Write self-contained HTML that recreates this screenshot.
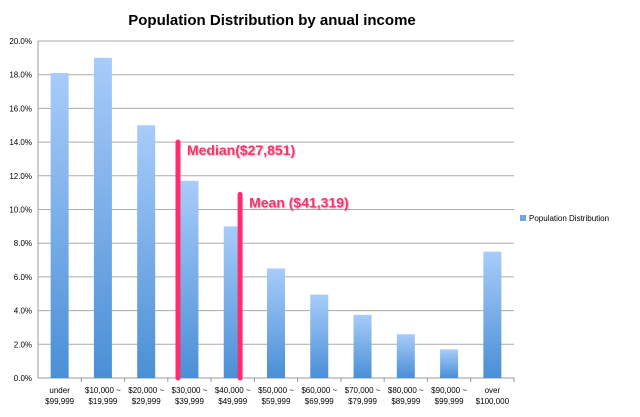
<!DOCTYPE html>
<html><head><meta charset="utf-8"><style>
body{margin:0;background:#fff;font-family:"Liberation Sans",sans-serif}
</style></head><body>
<svg id="c" width="640" height="412" xmlns="http://www.w3.org/2000/svg">
<defs><linearGradient id="g" x1="0" y1="0" x2="0" y2="1"><stop offset="0" stop-color="#a8ccfa"/><stop offset="1" stop-color="#4a8fd6"/></linearGradient>
<filter id="sh"><feDropShadow dx="1" dy="1" stdDeviation="0.8" flood-color="#888" flood-opacity="0.6"/></filter></defs>
<text x="272" y="25" text-anchor="middle" font-size="15" font-weight="bold">Population Distribution by anual income</text>
</svg>
<script>
const categories=[["under","$99,999"],["$10,000 ~","$19,999"],["$20,000 ~","$29,999"],["$30,000 ~","$39,999"],["$40,000 ~","$49,999"],["$50,000 ~","$59,999"],["$60,000 ~","$69,999"],["$70,000 ~","$79,999"],["$80,000 ~","$89,999"],["$90,000 ~","$99,999"],["over","$100,000"]];
const values=[18.1,19.0,15.0,11.7,9.0,6.5,4.95,3.75,2.6,1.7,7.5];
const yTicks=[0,2,4,6,8,10,12,14,16,18,20];
const markerLabels=["Median($27,851)","Mean ($41,319)"];
const markerSlots=[3.235,4.67];
const markerTops=[14.0,10.9];
const svg=document.getElementById('c');const NS="http://www.w3.org/2000/svg";
const x0=38,x1=514,y0=378,y1=41;
const bw=(x1-x0)/categories.length;
const y=v=>y0-(v/20)*(y0-y1);
const xs=slot=>x0+slot*bw;
function el(t,a,p){const e=document.createElementNS(NS,t);for(const k in a)e.setAttribute(k,a[k]);(p||svg).appendChild(e);return e;}
yTicks.forEach(t=>{
 const l=el('line',{x1:x0,x2:x1,y1:y(t),y2:y(t),stroke:t===0?'#999':'#aaa','stroke-width':1});
 
 
 const tx=el('text',{x:x0-6,y:y(t)+3,'text-anchor':'end','font-size':8});tx.textContent=t.toFixed(1)+'%';
 
 
});
const ax=el('line',{x1:x0,x2:x0,y1:y1,y2:y0,stroke:'#999'});


categories.forEach((c,i)=>{
 const cx=x0+bw*(i+0.5);
 const r=el('rect',{x:cx-9,y:y(values[i]),width:18,height:y0-y(values[i]),fill:'url(#g)'});
 
 
 const tk=el('line',{x1:x0+bw*(i+1),x2:x0+bw*(i+1),y1:y0,y2:y0+4,stroke:'#999'});
 
 
 c.forEach((s,j)=>{const t=el('text',{x:cx,y:393+j*11,'text-anchor':'middle','font-size':8});t.textContent=s;
 
 });
});
markerLabels.forEach((lab,i)=>{
 const mx=xs(markerSlots[i]);
 const l=el('line',{x1:mx,x2:mx,y1:y(markerTops[i]),y2:y0,stroke:'#ff2d6e','stroke-width':5,'stroke-linecap':'round'});
 
 
 const t=el('text',{x:mx+9,y:y(markerTops[i])+13,'font-size':14,'font-weight':'bold',fill:'#ff2d6e',filter:'url(#sh)'});t.textContent=lab;
 
 
});
const lr=el('rect',{x:520,y:215,width:6,height:6,fill:'#6ea6e6'});


const lt=el('text',{x:529,y:221,'font-size':8});lt.textContent='Population Distribution';


</script>
</body></html>
